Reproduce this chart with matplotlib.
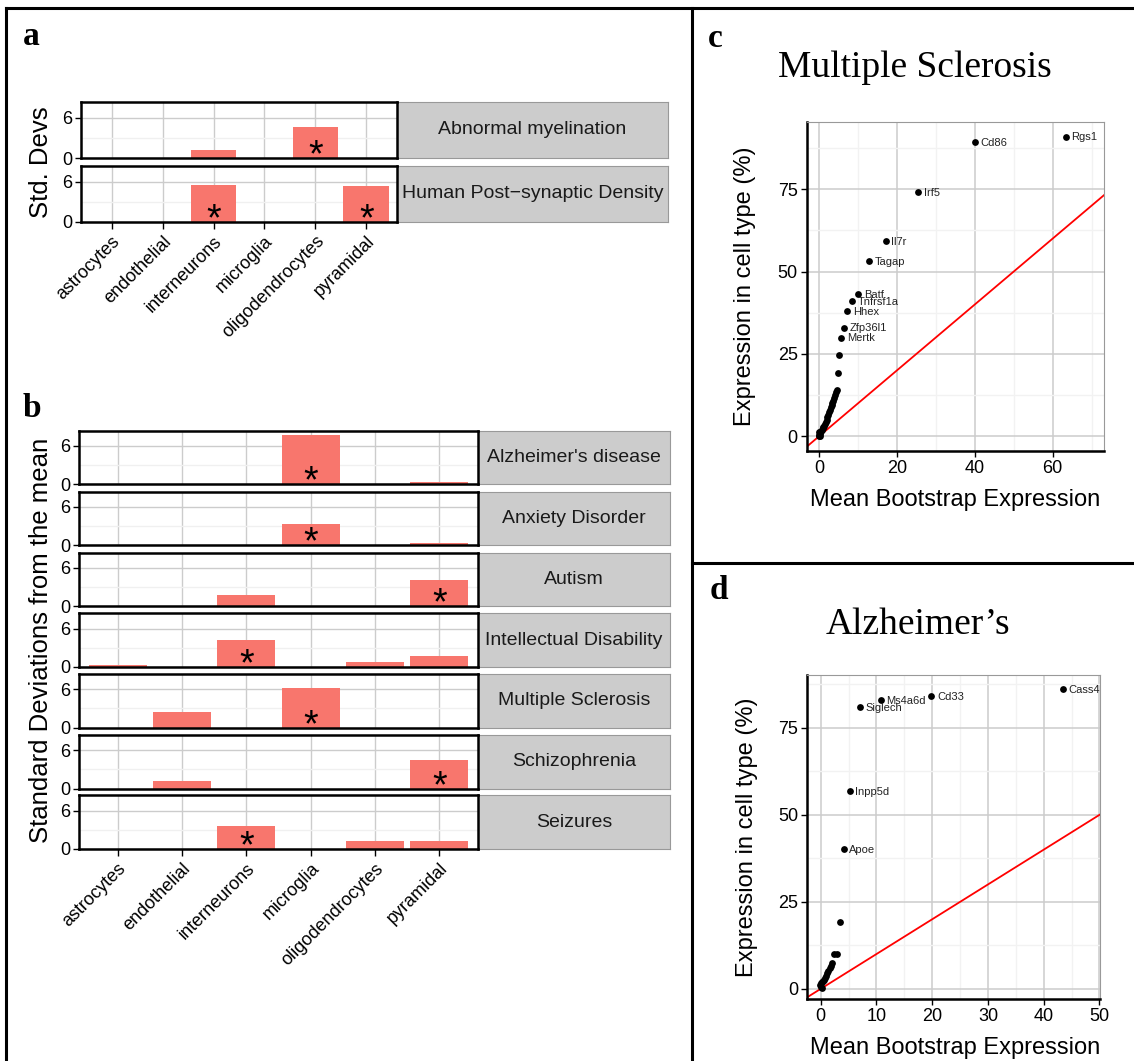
import numpy as np
import matplotlib
matplotlib.use("Agg")
import matplotlib.pyplot as plt
from matplotlib.lines import Line2D

plt.rcParams['font.family'] = ['Liberation Sans', 'DejaVu Sans']

W, H = 1134, 1061

# ---- data ----
cell_types = ["astrocytes", "endothelial", "interneurons", "microglia",
              "oligodendrocytes", "pyramidal"]

a_terms = ["Abnormal myelination", "Human Post\u2212synaptic Density"]
a_values = [[0, 0, 1.2, 0, 4.6, 0],
            [0, 0, 5.55, 0, 0, 5.4]]
a_stars = [[4], [2, 5]]

b_terms = ["Alzheimer's disease", "Anxiety Disorder", "Autism",
           "Intellectual Disability", "Multiple Sclerosis", "Schizophrenia",
           "Seizures"]
b_values = [[0, 0, 0, 7.75, 0, 0.3],
            [0, 0, 0, 3.4, 0, 0.4],
            [0, 0, 1.7, 0, 0, 4.15],
            [0.35, 0, 4.2, 0, 0.75, 1.7],
            [0, 2.4, 0, 6.15, 0, 0],
            [0, 1.25, 0, 0, 0, 4.55],
            [0, 0, 3.6, 0, 1.3, 1.3]]
b_stars = [[3], [3], [5], [2], [3], [5], [2]]

ms_genes = ["Rgs1", "Cd86", "Irf5", "Il7r", "Tagap", "Batf", "Tnfrsf1a",
            "Hhex", "Zfp36l1", "Mertk"]
ms_x = [63.4, 40.1, 25.5, 17.1, 12.8, 10.1, 8.5, 7.2, 6.35, 5.66]
ms_y = [91.0, 89.3, 74.1, 59.2, 53.1, 43.1, 41.0, 38.0, 33.0, 29.9]
ms_other_x = [5.1, 4.9, 4.5, 4.3, 4.1, 3.9, 3.6, 3.4, 3.2, 3.0, 2.75, 2.5,
              2.3, 2.1, 1.9, 1.7, 1.5, 1.3, 1.1, 0.9, 0.7, 0.5, 0.3, 0.1,
              0.0, -0.1, 0.2, 0.0]
ms_other_y = [24.8, 19.1, 14.1, 13.3, 12.5, 11.6, 10.6, 10.0, 9.5, 9.0, 8.0,
              7.2, 6.5, 5.8, 5.0, 4.4, 3.8, 3.2, 2.8, 2.4, 2.0, 1.6, 1.2,
              0.8, 0.4, 1.2, 0.0, 0.0]

ad_genes = ["Cass4", "Cd33", "Ms4a6d", "Siglech", "Inpp5d", "Apoe"]
ad_x = [43.5, 19.85, 10.8, 7.05, 5.2, 4.1]
ad_y = [86.1, 84.1, 82.9, 80.9, 56.9, 40.1]
ad_other_x = [3.4, 2.85, 2.3, 2.0, 1.8, 1.6, 1.4, 1.2, 1.0, 0.8, 0.6, 0.4,
              0.2, 0.0, 0.0, -0.1, 0.3]
ad_other_y = [19.1, 9.9, 9.9, 7.3, 6.6, 5.9, 5.2, 4.5, 3.8, 3.0, 2.6, 2.2,
              2.0, 1.6, 0.6, 1.2, 0.2]

bar_col = '#F8766D'
grid_col = '#cccccc'


def ax_px(x0, y0, x1, y1, **kw):
    return fig.add_axes([x0 / W, 1 - y1 / H, (x1 - x0) / W, (y1 - y0) / H], **kw)


def fig_text(x, y, s, **kw):
    return fig.text(x / W, 1 - y / H, s, **kw)


def strip(x0, y0, x1, y1, label):
    s = ax_px(x0, y0, x1, y1, facecolor='#cccccc')
    s.set_xticks([]); s.set_yticks([])
    for sp in s.spines.values():
        sp.set_color('#999999'); sp.set_linewidth(0.8)
    s.text(0.5, 0.5, label, ha='center', va='center', fontsize=14,
           color='#1a1a1a', transform=s.transAxes)


def facet(ax, vals, stars, bottom):
    ax.bar(range(len(cell_types)), vals, width=0.9, color=bar_col, zorder=2)
    ax.set_xlim(-0.6, 5.6)
    ax.set_ylim(0, 8.4)
    ax.set_xticks(range(len(cell_types)))
    ax.set_yticks([0, 6])
    ax.set_yticks([3], minor=True)
    ax.grid(True, which='major', color=grid_col, lw=1.0, zorder=0)
    ax.grid(True, which='minor', axis='y', color='#f0f0f0', lw=1.0, zorder=0)
    ax.set_axisbelow(True)
    for sp in ax.spines.values():
        sp.set_linewidth(1.8); sp.set_color('black')
    ax.tick_params(axis='y', which='major', length=4, width=1, labelsize=13,
                   pad=2)
    ax.tick_params(axis='y', which='minor', length=0)
    for i in stars:
        ax.annotate('*', xy=(i, 0), xytext=(0, -6), textcoords='offset points',
                    ha='center', va='baseline', fontsize=27, zorder=3)
    if bottom:
        ax.set_xticklabels(cell_types, rotation=45, ha='right',
                           rotation_mode='anchor', fontsize=13)
        ax.tick_params(axis='x', length=5, width=1, pad=3)
    else:
        ax.tick_params(axis='x', length=0, labelbottom=False)


fig = plt.figure(figsize=(W / 100, H / 100), dpi=100)

# ---- panel a ----
a_rows = [(101.7, 158.3), (166.0, 221.7)]
for k, (t, b) in enumerate(a_rows):
    strip(397, t, 668, b, a_terms[k])
for k, (t, b) in enumerate(a_rows):
    ax = ax_px(81, t, 397, b)
    facet(ax, a_values[k], a_stars[k], k == len(a_rows) - 1)
fig_text(41, 162, "Std. Devs", rotation=90, ha='center', va='center',
         fontsize=18.5)

# ---- panel b ----
b_tops = [430.7, 491.7, 552.7, 613.3, 674.0, 735.0, 795.3]
for k, t in enumerate(b_tops):
    strip(478, t, 670, t + 53.5, b_terms[k])
for k, t in enumerate(b_tops):
    ax = ax_px(79, t, 478, t + 53.5)
    facet(ax, b_values[k], b_stars[k], k == len(b_tops) - 1)
fig_text(41, 640, "Standard Deviations from the mean", rotation=90,
         ha='center', va='center', fontsize=18.5)


# ---- scatter panels ----
def scatter_panel(ax, gx, gy, genes, ox, oy, xlim, ylim, xmaj, xmin):
    ax.set_xlim(*xlim)
    ax.set_ylim(*ylim)
    ax.set_xticks(xmaj)
    ax.set_xticks(xmin, minor=True)
    ax.set_yticks([0, 25, 50, 75])
    ax.set_yticks([12.5, 37.5, 62.5, 87.5], minor=True)
    ax.grid(True, which='major', color=grid_col, lw=1.1, zorder=0)
    ax.grid(True, which='minor', color='#f2f2f2', lw=1.0, zorder=0)
    ax.set_axisbelow(True)
    ax.axline((0, 0), slope=1, color='red', lw=1.3, zorder=2)
    ax.scatter(ox, oy, s=24, color='black', zorder=3, linewidths=0)
    ax.scatter(gx, gy, s=24, color='black', zorder=3, linewidths=0)
    for x, y, g in zip(gx, gy, genes):
        ax.annotate(g, xy=(x, y), xytext=(4, -0.5), textcoords='offset points',
                    ha='left', va='center', fontsize=8, color='#222222')
    for side in ['top', 'right']:
        ax.spines[side].set_color('#999999'); ax.spines[side].set_linewidth(0.8)
    for side in ['left', 'bottom']:
        ax.spines[side].set_color('black'); ax.spines[side].set_linewidth(1.8)
    ax.tick_params(which='major', length=4, width=1, labelsize=13, pad=2.5,
                   colors='black')
    ax.tick_params(which='minor', length=0)


axc = ax_px(806.7, 121.7, 1104, 450.7)
scatter_panel(axc, ms_x, ms_y, ms_genes, ms_other_x, ms_other_y,
              (-3.2, 73.2), (-4.4, 95.5), [0, 20, 40, 60], [10, 30, 50, 70])
fig_text(745, 286, "Expression in cell type (%)", rotation=90, ha='center',
         va='center', fontsize=17)
fig_text(955, 500, "Mean Bootstrap Expression", ha='center', va='center',
         fontsize=17)

axd = ax_px(807.3, 675, 1100, 999.3)
scatter_panel(axd, ad_x, ad_y, ad_genes, ad_other_x, ad_other_y,
              (-2.4, 50.1), (-3.0, 90.2), [0, 10, 20, 30, 40, 50],
              [5, 15, 25, 35, 45])
fig_text(747, 837, "Expression in cell type (%)", rotation=90, ha='center',
         va='center', fontsize=17)
fig_text(955, 1048, "Mean Bootstrap Expression", ha='center', va='center',
         fontsize=17)

# ---- titles and panel letters ----
serif = ['Liberation Serif', 'DejaVu Serif']
fig_text(915, 77, "Multiple Sclerosis", ha='center', va='baseline',
         fontsize=27, family=serif)
fig_text(918, 634, "Alzheimer\u2019s", ha='center', va='baseline',
         fontsize=27, family=serif)
for x, y, s in [(23, 45, 'a'), (23, 417, 'b'), (708, 47, 'c'), (710, 599, 'd')]:
    fig_text(x, y, s, ha='left', va='baseline', fontsize=24, weight='bold',
             family=serif)

# ---- frame lines ----
for (x0, y0, x1, y1) in [(6, 8, 1134, 8), (6, 8, 6, 1061), (692, 8, 692, 1061),
                         (692, 563, 1134, 563)]:
    fig.add_artist(Line2D([x0 / W, x1 / W], [1 - y0 / H, 1 - y1 / H],
                          transform=fig.transFigure, color='black', lw=2.2))

fig.savefig("out.png", dpi=100)
